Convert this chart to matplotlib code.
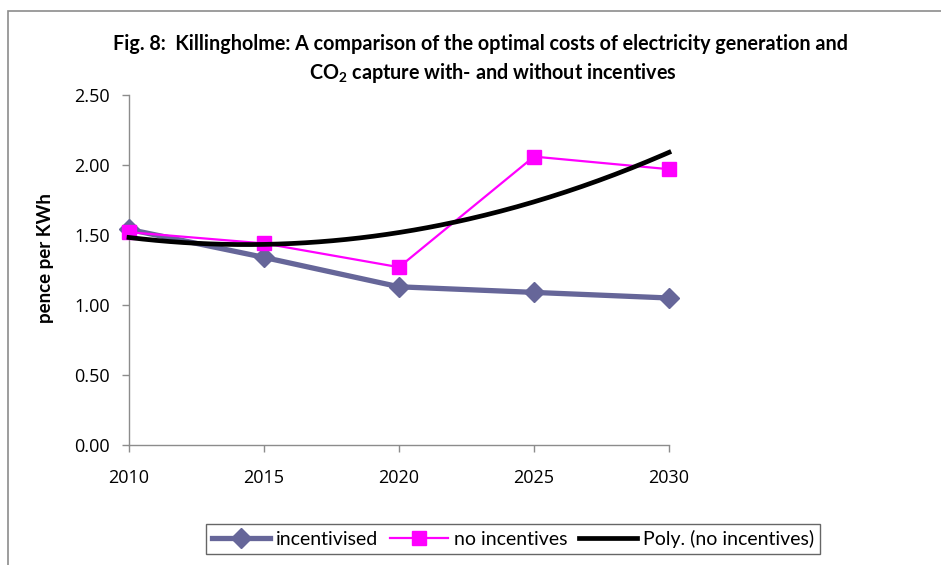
import numpy as np
import matplotlib
matplotlib.use("Agg")
import matplotlib.pyplot as plt
from matplotlib.patches import Rectangle

plt.rcParams['font.family'] = ['Liberation Sans', 'DejaVu Sans']
plt.rcParams['mathtext.fontset'] = 'custom'
plt.rcParams['mathtext.rm'] = 'Lato'
plt.rcParams['mathtext.bf'] = 'Lato:bold'

years = [2010, 2015, 2020, 2025, 2030]
incentivised = [1.54, 1.34, 1.13, 1.09, 1.05]
no_incentives = [1.52, 1.44, 1.27, 2.06, 1.97]
y_ticks = [0.0, 0.5, 1.0, 1.5, 2.0, 2.5]

W, H = 941, 565
fig = plt.figure(figsize=(W / 100, H / 100), dpi=100)

# outer chart-area border
fig.patches.append(Rectangle((8 / W, -0.05), 1.2, 1 - 11 / H + 0.05,
                             transform=fig.transFigure, fill=False,
                             edgecolor='#8c8c8c', linewidth=1.2))

ax = fig.add_axes([129 / W, 1 - 445 / H, (669 - 129) / W, (445 - 95) / H])

# second-order polynomial trend of the no-incentive series (Excel style, x = 1..5)
idx = np.arange(1, len(years) + 1)
coef = np.polyfit(idx, no_incentives, 2)
fine = np.linspace(1, len(years), 200)
trend = np.polyval(coef, fine)
fine_years = years[0] + (fine - 1) * (years[1] - years[0])

ax.plot(years, incentivised, color='#666699', linewidth=3.8, marker='D',
        markersize=10, markeredgecolor='#666699', label='incentivised',
        zorder=3, clip_on=False)
ax.plot(years, no_incentives, color='#ff00ff', linewidth=1.6, marker='s',
        markersize=10, markeredgecolor='#ff00ff', label='no incentives',
        zorder=4, clip_on=False)
ax.plot(fine_years, trend, color='black', linewidth=3.4,
        label='Poly. (no incentives)', zorder=5, clip_on=False)

ax.set_xlim(years[0], years[-1])
ax.set_ylim(y_ticks[0], y_ticks[-1])
ax.set_xticks(years)
ax.set_xticklabels([str(y) for y in years])
ax.set_yticks(y_ticks)
ax.set_yticklabels([f'{v:.2f}' for v in y_ticks])

for s in ('top', 'right'):
    ax.spines[s].set_visible(False)
for s in ('left', 'bottom'):
    ax.spines[s].set_color('#8c8c8c')
    ax.spines[s].set_linewidth(1.0)
ax.tick_params(axis='both', direction='out', length=5, width=1.0,
               color='#8c8c8c', labelcolor='black')
ax.tick_params(axis='y', pad=9)
ax.tick_params(axis='x', pad=12)
for lab in ax.get_xticklabels() + ax.get_yticklabels():
    lab.set_family(['Open Sans', 'DejaVu Sans'])
    lab.set_fontsize(13)

fig.text(45 / W, 1 - 258 / H, 'pence per KWh', rotation=90, ha='center',
         va='center', fontsize=13.5, fontweight='bold', family='Lato')

fig.text(480 / W, 1 - 44 / H,
         'Fig. 8:  Killingholme: A comparison of the optimal costs of electricity generation and',
         ha='center', va='center', fontsize=14.2, fontweight='bold', family='Lato')
fig.text(493 / W, 1 - 73 / H,
         r'$\mathbf{CO_2}$ capture with- and without incentives',
         ha='center', va='center', fontsize=14.2, fontweight='bold', family='Lato')

leg = fig.legend(loc='center', bbox_to_anchor=(513 / W, 1 - 539 / H), ncol=3,
                 frameon=True, fancybox=False, edgecolor='#404040',
                 prop={'family': 'Lato', 'size': 14}, handlelength=3.0,
                 handletextpad=0.3, columnspacing=0.6, borderpad=0.3,
                 markerscale=1.0)
leg.get_frame().set_linewidth(1.0)

fig.savefig('out.png', dpi=100)
